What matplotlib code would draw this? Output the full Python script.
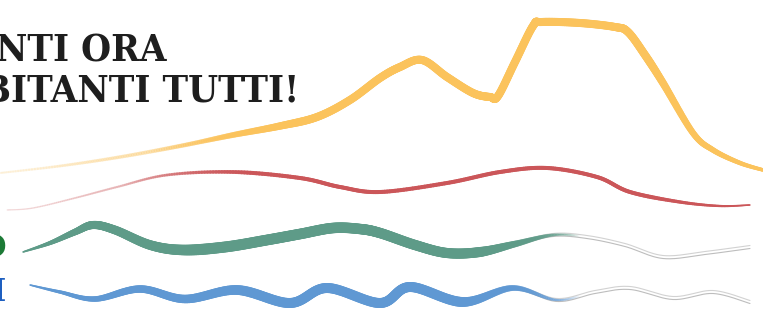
import numpy as np
import matplotlib
matplotlib.use("Agg")
import matplotlib.pyplot as plt
from matplotlib.collections import LineCollection
from matplotlib.colors import to_rgb

# ---- data (pixel-space positions of the curves) ----
yellow_x = [0, 60, 120, 180, 233, 280, 317, 350, 380, 400, 422, 447, 473, 490, 498, 515, 533, 542, 580, 615, 628, 645, 663, 693, 713, 740, 763]
yellow_y = [173, 166, 157, 146, 135, 126, 117, 100, 78, 67, 60, 77, 93, 97, 96, 62, 26, 22, 23, 27, 32, 55, 83, 133, 150, 163, 170]

red_x = [7, 33, 75, 117, 167, 233, 300, 340, 380, 447, 500, 547, 597, 630, 680, 720, 750]
red_y = [210, 208, 198, 187, 175, 172, 178, 187, 192, 183, 172, 168, 177, 192, 202, 206, 205]

green_x = [23, 50, 75, 93, 115, 150, 183, 225, 267, 300, 333, 360, 380, 415, 447, 480, 515, 553, 587, 625, 663, 705, 750]
green_y = [252, 243, 232, 225, 230, 245, 250, 247, 240, 234, 228, 229, 233, 245, 253, 252, 244, 235, 237, 245, 257, 253, 247]

blue_x = [30, 60, 95, 140, 185, 237, 290, 327, 380, 410, 463, 513, 557, 595, 630, 673, 713, 750]
blue_y = [285, 292, 299, 289, 299, 290, 303, 288, 303, 287, 302, 288, 300, 292, 288, 298, 292, 302]

title_lines = ["NTI ORA", "BITANTI TUTTI!"]
side_labels = ["O", "I"]

W, H = 763, 314
PX = 72.0 / 100.0  # points per pixel


def catmull(xs, ys, n=24):
    P = np.column_stack([xs, ys]).astype(float)
    P = np.vstack([P[0], P, P[-1]])
    out = []
    for i in range(1, len(P) - 2):
        p0, p1, p2, p3 = P[i - 1], P[i], P[i + 1], P[i + 2]
        t = np.linspace(0, 1, n, endpoint=False)[:, None]
        pts = 0.5 * ((2 * p1) + (-p0 + p2) * t + (2 * p0 - 5 * p1 + 4 * p2 - p3) * t ** 2
                     + (-p0 + 3 * p1 - 3 * p2 + p3) * t ** 3)
        out.append(pts)
    out.append(P[-2][None, :])
    return np.vstack(out)


def draw(ax, xs, ys, color, width_fn, alpha_fn, z=3):
    pts = catmull(xs, ys)
    segs = np.stack([pts[:-1], pts[1:]], axis=1)
    mx = 0.5 * (pts[:-1, 0] + pts[1:, 0])
    rgb = np.array(to_rgb(color))
    a = np.clip(alpha_fn(mx), 0, 1)
    cols = np.column_stack([np.tile(rgb, (len(mx), 1)), a])
    lws = width_fn(mx) * PX
    lc = LineCollection(segs, colors=cols, linewidths=lws, capstyle="round", zorder=z)
    ax.add_collection(lc)
    return pts


fig = plt.figure(figsize=(W / 100, H / 100), dpi=100)
ax = fig.add_axes([0, 0, 1, 1])
ax.set_xlim(0, W)
ax.set_ylim(H, 0)
ax.axis("off")

# yellow
draw(ax, yellow_x, yellow_y, "#FBC35C",
     lambda x: np.interp(x, [0, 200, 300, 650, 763], [2.0, 4.5, 8, 8, 3.5]),
     lambda x: np.interp(x, [0, 150, 230, 280], [0.12, 0.3, 0.75, 1.0]))
# red
draw(ax, red_x, red_y, "#CB5659",
     lambda x: np.interp(x, [7, 150, 250, 650, 750], [1.2, 2.5, 4, 4, 1.5]),
     lambda x: np.interp(x, [7, 120, 200, 260], [0.12, 0.25, 0.7, 1.0]))

# grey continuation (double thin lines) for green and blue
for xs, ys, x0 in [(green_x, green_y, 470), (blue_x, blue_y, 450)]:
    pts = catmull(xs, ys)
    m = pts[:, 0] >= x0
    for off, c in [(-1.5, "#D2D2D2"), (1.5, "#BDBDBD")]:
        ax.plot(pts[m, 0], pts[m, 1] + off, color=c, lw=0.8, zorder=2,
                solid_capstyle="round")

# green
draw(ax, green_x, green_y, "#5E9B88",
     lambda x: np.interp(x, [23, 90, 200, 480, 560], [1.5, 8, 11, 10, 2]),
     lambda x: np.interp(x, [23, 480, 560, 580], [1, 1, 0.5, 0]), z=4)
# blue
draw(ax, blue_x, blue_y, "#5F98D3",
     lambda x: np.interp(x, [30, 120, 250, 460, 560], [1.5, 7, 10, 10, 2]),
     lambda x: np.interp(x, [30, 460, 560, 580], [1, 1, 0.5, 0]), z=4)

# title text
tfont = dict(fontsize=27.5, fontweight="bold", family="DejaVu Serif",
             fontstretch="condensed", color="#1E1E1E", zorder=5)
ax.text(166, 62, title_lines[0], ha="right", va="baseline", **tfont)
ax.text(299, 102, title_lines[1], ha="right", va="baseline", **tfont)

# side labels (clipped at the left edge as in the reference)
ax.text(6, 257, side_labels[0], ha="right", va="baseline", fontsize=22,
        fontweight="bold", family="DejaVu Serif", color="#1C7A36", zorder=5)
ax.text(6, 301, side_labels[1], ha="right", va="baseline", fontsize=22,
        fontweight="bold", family="DejaVu Serif", color="#1E5FC0", zorder=5)

fig.savefig("out.png", dpi=100)
